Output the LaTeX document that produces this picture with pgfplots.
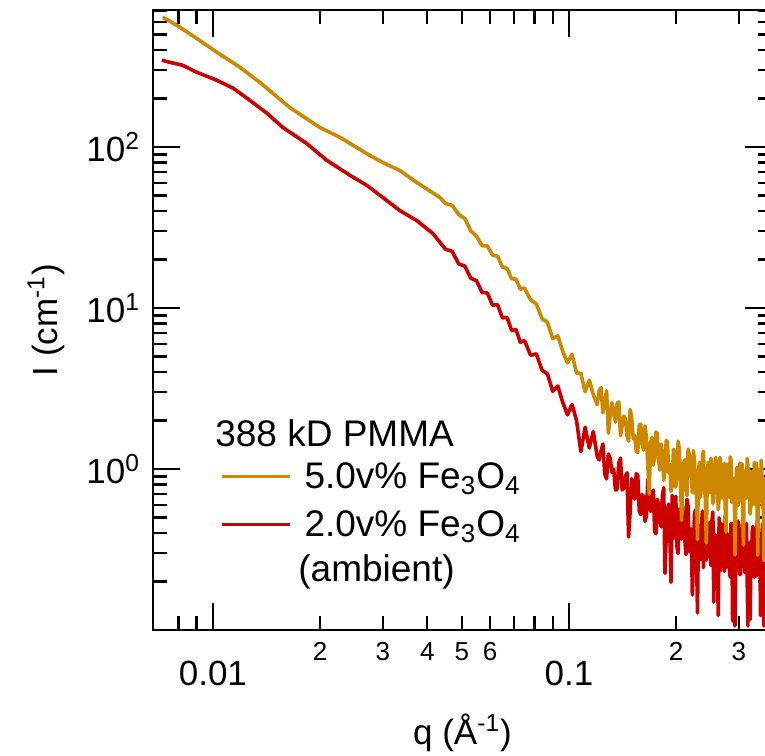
\documentclass[border=0pt]{standalone}
\usepackage{pgfplots}
\pgfplotsset{compat=1.18}
\usepackage{fontspec}
\setmainfont{Liberation Sans}
\definecolor{cor}{RGB}{204,136,0}
\definecolor{cre}{RGB}{204,0,0}

\pgfplotstableread{
q I
0.00724 640
0.00757 605
0.00808 555
0.00890 481
0.01026 388
0.01191 313
0.01355 252
0.01645 176
0.0200 132
0.02274 115
0.0243 105
0.0276 88.6
0.0300 80.2
0.0335 71.5
0.0374 60.2
0.0434 48.6
0.045 44.6
0.047 43.4
0.049 38.1
0.051 36.0
0.053 30.1
0.055 28.0
0.057 24.4
0.059 24.3
0.061 21.3
0.063 21.0
0.065 18.0
0.067 17.6
0.069 15.2
0.071 15.1
0.073 13.1
0.075 13.3
0.078 11.26
0.081 10.60
0.084 8.59
0.087 8.16
0.090 6.46
0.093 6.72
0.096 5.40
0.099 4.57
0.102 5.16
0.105 3.94
0.108 3.93
0.111 3.02
0.114 3.57
0.117 2.90
0.120 2.51
0.1215 3.04
0.123 3.21
0.1245 2.25
0.126 2.59
0.1275 3.06
0.129 1.67
0.1305 2.14
0.132 2.58
0.1335 2.23
0.135 1.96
0.1365 2.56
0.138 2.61
0.1395 1.61
0.141 1.85
0.1425 2.13
0.144 2.06
0.1455 1.61
0.147 1.49
0.1485 2.34
0.150 2.07
0.1515 1.54
0.153 1.61
0.1545 1.28
0.156 1.27
0.1575 1.88
0.159 1.90
0.1605 1.43
0.162 1.31
0.1635 1.85
0.165 1.59
0.1665 1.05
0.168 0.70
0.1695 1.45
0.171 1.57
0.1725 1.06
0.174 1.20
0.1755 1.70
0.177 1.66
0.1785 1.13
0.180 0.985
0.1815 1.43
0.183 1.27
0.1845 0.850
0.186 0.98
0.1875 1.50
0.189 1.475
0.1905 0.947
0.192 1.07
0.1935 0.727
0.195 0.806
0.1965 1.325
0.198 1.24
0.1995 0.771
0.201 0.930
0.2025 1.49
0.204 1.33
0.2055 0.921
0.207 0.478
0.2085 0.785
0.210 1.10
0.2115 1.14
0.213 0.792
0.2145 0.684
0.216 1.33
0.2175 1.23
0.219 0.898
0.2205 0.919
0.222 0.715
0.2235 1.30
0.225 1.135
0.2265 0.703
0.228 0.797
0.2295 0.365
0.231 0.985
0.2325 1.10
0.234 0.669
0.2355 0.790
0.237 1.20
0.2385 1.29
0.240 0.819
0.2415 0.650
0.243 0.346
0.2445 0.955
0.246 1.10
0.2475 0.712
0.249 0.727
0.2505 1.166
0.252 0.99
0.2535 0.609
0.255 0.656
0.2565 0.867
0.258 1.18
0.2595 1.07
0.261 0.834
0.2625 0.558
0.264 0.666
0.2655 1.18
0.267 0.997
0.2685 0.661
0.270 0.748
0.2715 0.942
0.273 1.085
0.2745 0.588
0.276 0.406
0.2775 1.075
0.279 0.919
0.2805 0.723
0.282 0.666
0.2835 1.19
0.285 1.135
0.2865 0.621
0.288 0.707
0.2895 0.856
0.291 0.879
0.2925 0.292
0.294 0.600
0.2955 1.02
0.297 1.02
0.2985 0.594
0.300 0.770
0.3015 1.09
0.303 0.636
0.3045 0.734
0.306 1.08
0.3075 0.569
0.309 0.337
0.3105 0.972
0.312 0.922
0.3135 0.655
0.315 0.672
0.3165 1.16
0.318 1.04
0.3195 0.752
0.321 0.735
0.3225 0.525
0.324 0.588
0.3255 0.928
0.327 0.972
0.3285 0.603
0.330 0.802
0.3315 1.10
0.333 0.603
0.3345 0.669
0.336 1.09
0.3375 0.558
0.339 0.291
0.3405 0.994
0.342 0.875
0.3435 0.715
0.345 0.636
0.3465 1.135
0.348 0.989
0.3495 0.573
0.351 0.699
0.3525 0.270
0.354 0.842
0.3555 0.879
0.357 0.575
0.3585 0.635
0.360 1.044
0.3615 1.045
0.363 0.672
0.3645 0.549
0.366 0.356
0.3675 0.905
0.369 0.918
0.3705 0.730
0.372 0.714
}\orangedata

\pgfplotstableread{
q I
0.00719 346
0.00757 336
0.00823 322
0.00902 291
0.01026 260
0.0114 232
0.0127 195
0.01419 162
0.01574 132
0.01836 105
0.0209 82.6
0.0243 66.6
0.0271 57.7
0.0300 48.6
0.0335 40.3
0.0374 34.9
0.0415 29.0
0.045 23.2
0.047 22.5
0.049 18.8
0.051 18.2
0.053 15.3
0.055 14.8
0.057 12.5
0.059 12.4
0.061 10.4
0.063 10.5
0.065 8.68
0.067 8.75
0.069 7.26
0.071 7.35
0.073 6.13
0.075 6.28
0.078 5.09
0.081 5.19
0.084 4.10
0.087 3.90
0.090 3.04
0.093 3.28
0.096 2.60
0.099 2.17
0.102 2.52
0.105 2.00
0.108 1.28
0.111 1.82
0.114 1.35
0.117 1.71
0.120 1.20
0.1215 1.14
0.123 1.29
0.1245 1.43
0.126 0.930
0.1275 0.869
0.129 1.24
0.1305 1.17
0.132 0.953
0.1335 0.997
0.135 0.740
0.1365 0.753
0.138 1.09
0.1395 1.17
0.141 0.741
0.1425 0.758
0.144 0.898
0.1455 0.947
0.147 0.379
0.1485 0.548
0.150 0.869
0.1515 0.822
0.153 0.651
0.1545 0.936
0.156 0.914
0.1575 0.549
0.159 0.521
0.1605 0.693
0.162 0.675
0.1635 0.473
0.165 0.512
0.1665 0.863
0.168 0.786
0.1695 0.546
0.171 0.561
0.1725 0.739
0.174 0.408
0.1755 0.397
0.177 0.648
0.1785 0.607
0.180 0.469
0.1815 0.437
0.183 0.686
0.1845 0.765
0.186 0.225
0.1875 0.369
0.189 0.556
0.1905 0.605
0.192 0.382
0.1935 0.198
0.195 0.686
0.1965 0.370
0.198 0.437
0.1995 0.677
0.201 0.331
0.2025 0.298
0.204 0.564
0.2055 0.509
0.207 0.367
0.2085 0.592
0.210 0.468
0.2115 0.362
0.213 0.294
0.2145 0.648
0.216 0.584
0.2175 0.307
0.219 0.367
0.2205 0.425
0.222 0.165
0.2235 0.273
0.225 0.517
0.2265 0.558
0.228 0.314
0.2295 0.128
0.231 0.450
0.2325 0.310
0.234 0.273
0.2355 0.450
0.237 0.547
0.2385 0.244
0.240 0.357
0.2415 0.543
0.243 0.272
0.2445 0.333
0.246 0.435
0.2475 0.464
0.249 0.307
0.2505 0.252
0.252 0.476
0.2535 0.541
0.255 0.149
0.2565 0.349
0.258 0.389
0.2595 0.268
0.261 0.267
0.2625 0.123
0.264 0.498
0.2655 0.232
0.267 0.283
0.2685 0.458
0.270 0.363
0.2715 0.296
0.273 0.231
0.2745 0.513
0.276 0.432
0.2775 0.246
0.279 0.307
0.2805 0.390
0.282 0.244
0.2835 0.213
0.285 0.457
0.2865 0.460
0.288 0.114
0.2895 0.311
0.291 0.376
0.2925 0.106
0.294 0.259
0.2955 0.249
0.297 0.434
0.2985 0.475
0.300 0.287
0.3015 0.221
0.303 0.221
0.3045 0.363
0.306 0.398
0.3075 0.489
0.309 0.318
0.3105 0.256
0.312 0.227
0.3135 0.410
0.315 0.459
0.3165 0.205
0.318 0.106
0.3195 0.342
0.321 0.350
0.3225 0.116
0.324 0.242
0.3255 0.264
0.327 0.406
0.3285 0.441
0.330 0.270
0.3315 0.212
0.333 0.336
0.3345 0.386
0.336 0.217
0.3375 0.479
0.339 0.436
0.3405 0.231
0.342 0.259
0.3435 0.354
0.345 0.123
0.3465 0.202
0.348 0.374
0.3495 0.457
0.351 0.278
0.3525 0.106
0.354 0.288
0.3555 0.273
0.357 0.402
0.3585 0.401
0.360 0.258
0.3615 0.219
0.363 0.345
0.3645 0.475
0.366 0.221
0.3675 0.260
0.369 0.416
0.3705 0.336
0.372 0.298
}\reddata

\begin{document}
\begin{tikzpicture}
\useasboundingbox (-76.5pt,-62.5pt) rectangle (306pt,315pt);
\clip (-76.5pt,-62.5pt) rectangle (306pt,315pt);
\begin{axis}[
  xmode=log, ymode=log,
  scale only axis, width=309.5pt, height=310pt,
  xmin=0.00679, xmax=0.3716, ymin=0.1, ymax=710,
  /pgf/number format/assume math mode=true,
  axis line style={line width=1.3pt},
  tick style={black, line width=1.2pt},
  major tick length=13.5pt, minor tick length=7pt,
  tick align=inside,
  xtick={0.01,0.1},
  xticklabels={\rule{0pt}{24pt}0.01,\rule{0pt}{24pt}0.1},
  minor xtick={0.008,0.009,0.02,0.03,0.04,0.05,0.06,0.07,0.08,0.09,0.2,0.3},
  extra x ticks={0.02,0.03,0.04,0.05,0.06,0.2,0.3},
  extra x tick labels={\rule{0pt}{11.5pt}2,\rule{0pt}{11.5pt}3,\rule{0pt}{11.5pt}4,\rule{0pt}{11.5pt}5,\rule{0pt}{11.5pt}6,\rule{0pt}{11.5pt}2,\rule{0pt}{11.5pt}3},
  extra x tick style={major tick length=7pt, tick label style={font=\fontsize{13}{13}\selectfont}},
  ytick={1,10,100},
  yticklabels={10\textsuperscript{0},10\textsuperscript{1},10\textsuperscript{2}},
  minor ytick={0.2,0.3,0.4,0.5,0.6,0.7,0.8,0.9,2,3,4,5,6,7,8,9,20,30,40,50,60,70,80,90,200,300,400,500,600,700},
  yticklabel style={xshift=-3pt},
  tick label style={font=\fontsize{17.5}{17.5}\selectfont},
  xlabel={q (Å\textsuperscript{-1})},
  xlabel style={at={(axis description cs:0.5,0)}, anchor=base, yshift=-57pt, font=\fontsize{17.5}{17.5}\selectfont},
  ylabel={I (cm\textsuperscript{-1})},
  ylabel style={at={(axis description cs:-0.1729,0.5)}, anchor=center, font=\fontsize{17.5}{17.5}\selectfont},
  legend style={draw=none, fill=none, inner sep=0pt, outer sep=0pt, row sep=5.5pt,
    at={(axis description cs:0.1082,0.2761)}, anchor=north west,
    font=\fontsize{18.5}{18.5}\selectfont,
    cells={anchor=base west, inner sep=0pt}},
  legend image code/.code={\draw[#1] (0pt,6pt) -- (34pt,6pt); \path (38.5pt,0pt);},
]
\addplot[cre, line width=1.8pt, line join=round, forget plot] table[x=q, y=I] {\reddata};
\addplot[cor, line width=1.8pt, line join=round, forget plot] table[x=q, y=I] {\orangedata};
\addlegendimage{cor, line width=1.8pt}
\addlegendentry{5.0v\% Fe\textsubscript{3}O\textsubscript{4}}
\addlegendimage{cre, line width=1.8pt}
\addlegendentry{2.0v\% Fe\textsubscript{3}O\textsubscript{4}}
\node[anchor=base west, inner sep=0pt, font=\fontsize{18.5}{18.5}\selectfont] at (axis description cs:0.100,0.2952) {388 kD PMMA};
\node[anchor=base west, inner sep=0pt, font=\fontsize{18.5}{18.5}\selectfont] at (axis description cs:0.2343,0.0775) {(ambient)};
\end{axis}
\end{tikzpicture}
\end{document}
